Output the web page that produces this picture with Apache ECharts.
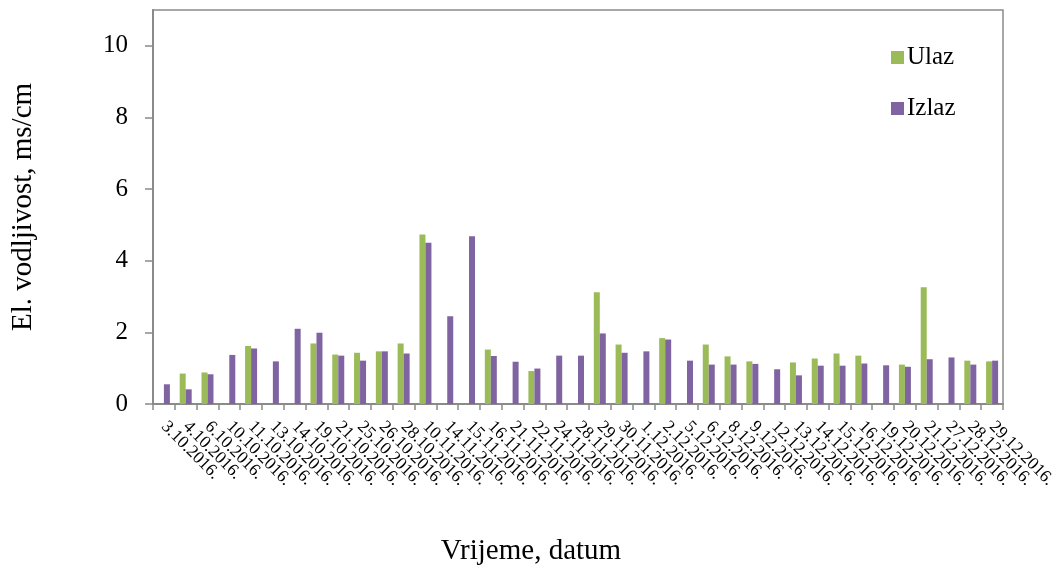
<!DOCTYPE html>
<html>
<head>
<meta charset="utf-8">
<script src="https://cdn.jsdelivr.net/npm/echarts@6/dist/echarts.min.js"></script>
<style>
html,body{margin:0;padding:0;background:#fff;}
#chart{width:1061px;height:571px;}
</style>
</head>
<body>
<div id="chart"></div>
<script>
const categories = ['3.10.2016.','4.10.2016.','6.10.2016.','10.10.2016.','11.10.2016.','13.10.2016.','14.10.2016.','19.10.2016.','21.10.2016.','25.10.2016.','26.10.2016.','28.10.2016.','10.11.2016.','14.11.2016.','15.11.2016.','16.11.2016.','21.11.2016.','22.11.2016.','24.11.2016.','28.11.2016.','29.11.2016.','30.11.2016.','1.12.2016.','2.12.2016.','5.12.2016.','6.12.2016.','8.12.2016.','9.12.2016.','12.12.2016.','13.12.2016.','14.12.2016.','15.12.2016.','16.12.2016.','19.12.2016.','20.12.2016.','21.12.2016.','27.12.2016.','28.12.2016.','29.12.2016.'];
const ulaz = [null,0.85,0.88,null,1.62,null,null,1.69,1.38,1.43,1.47,1.69,4.73,null,null,1.52,null,0.92,null,null,3.12,1.66,null,1.84,null,1.66,1.33,1.19,null,1.16,1.27,1.41,1.35,null,1.10,3.26,null,1.21,1.19];
const izlaz = [0.55,0.41,0.83,1.37,1.55,1.19,2.10,1.99,1.35,1.21,1.47,1.41,4.50,2.45,4.68,1.34,1.18,0.99,1.35,1.35,1.97,1.43,1.47,1.80,1.21,1.10,1.10,1.12,0.97,0.80,1.07,1.07,1.13,1.08,1.04,1.25,1.30,1.10,1.21];
const yTicks = [0,2,4,6,8,10];

const font = 'Liberation Serif';
const chart = echarts.init(document.getElementById('chart'));
chart.setOption({
  animation: false,
  textStyle: {fontFamily: font},
  grid: {left: 153, right: 58, top: 10, bottom: 165, show: true, borderColor: '#8a8a8a', borderWidth: 1.5, containLabel: false},
  legend: {
    orient: 'vertical', left: 886, top: 40, itemWidth: 13, itemHeight: 13, itemGap: 26,
    icon: 'rect',
    textStyle: {fontFamily: font, fontSize: 25, color: '#000', padding: [0,0,0,-2]},
    data: ['Ulaz','Izlaz']
  },
  xAxis: {
    type: 'category', data: categories,
    name: 'Vrijeme, datum', nameLocation: 'middle', nameGap: 133,
    nameTextStyle: {fontFamily: font, fontSize: 29, color: '#000', padding: [0, 94, 0, 0]},
    axisLine: {lineStyle: {color: '#8a8a8a', width: 2}},
    axisTick: {show: true, alignWithLabel: false, length: 6, lineStyle: {color: '#8a8a8a', width: 1.5}},
    axisLabel: {rotate: -45, interval: 0, fontFamily: font, fontSize: 17.5, color: '#000', margin: 20}
  },
  yAxis: {
    type: 'value', min: 0, max: 11, interval: 2,
    name: 'El. vodljivost, ms/cm', nameLocation: 'middle', nameGap: 115, nameRotate: 90,
    nameTextStyle: {fontFamily: font, fontSize: 29, color: '#000'},
    axisLine: {show: true, lineStyle: {color: '#8a8a8a', width: 2}},
    axisTick: {show: true, length: 8, lineStyle: {color: '#8a8a8a', width: 1.5}, customValues: yTicks},
    axisLabel: {fontFamily: font, fontSize: 25, color: '#000', margin: 25, customValues: yTicks},
    splitLine: {show: false}
  },
  series: [
    {name: 'Ulaz', type: 'bar', data: ulaz, barWidth: 6, barGap: '0%', itemStyle: {color: '#9BBB59'}},
    {name: 'Izlaz', type: 'bar', data: izlaz, barWidth: 6, barGap: '0%', itemStyle: {color: '#8064A2'}}
  ]
});
</script>
</body>
</html>
